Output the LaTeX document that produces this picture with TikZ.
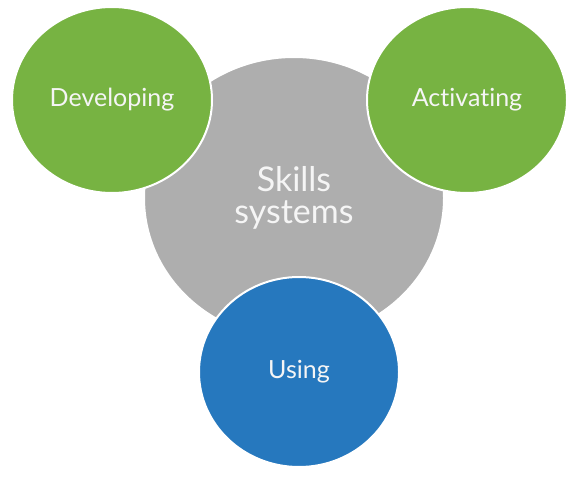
\documentclass[tikz,border=0pt]{standalone}
\usepackage{fontspec}
\setmainfont{Lato}[Ligatures=NoCommon]
\usetikzlibrary{shapes.geometric}
\definecolor{skillgreen}{RGB}{119,179,66}
\definecolor{skillgray}{RGB}{174,174,174}
\definecolor{skillblue}{RGB}{38,120,190}
\tikzset{
    blob/.style={ellipse, draw=white, line width=2pt, text=white!96!black, inner sep=0pt, align=center}, % round part of the picture
    side/.style={blob, fill=skillgreen, minimum width=200pt, minimum height=186pt, font=\fontsize{25}{28}\selectfont},
}
\begin{document}
\begin{tikzpicture}[x=1pt,y=-1pt]
        \useasboundingbox (0,0) rectangle (580,478);

        \node at (294,198) [blob, fill=skillgray, minimum width=300pt, minimum height=282pt, font=\fontsize{34}{32}\selectfont] (SK) {Skills\\systems};

        \node at (112,100) [side] (DEV) {Developing};
        \node at (467,100) [side] (ACT) {Activating};

        \node at (299,372) [blob, fill=skillblue, minimum width=200pt, minimum height=190pt, font=\fontsize{25}{28}\selectfont] (USE) {Using};

    \end{tikzpicture}
\end{document}
